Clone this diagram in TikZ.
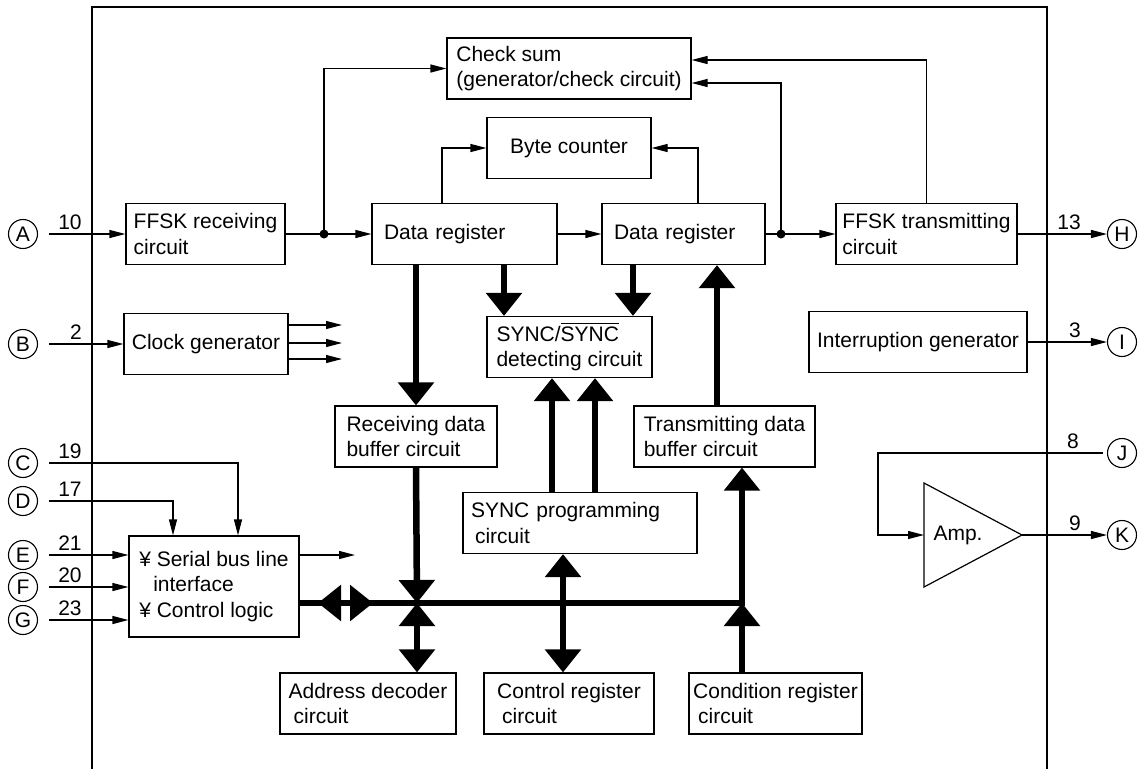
\documentclass[tikz,border=0pt]{standalone}
\usepackage{fontspec}
\setmainfont{Liberation Sans}
\usetikzlibrary{arrows.meta}
\newcommand\barsync[1]{\setbox0\hbox{#1}\rlap{\rule[\dimexpr\ht0+2.5pt\relax]{\wd0}{1.1pt}}#1}
\tikzset{
  blk/.style={draw, line width=1.2pt, inner xsep=4pt, inner ysep=0pt, minimum height=61pt,
    align=left, font=\fontsize{21}{25.7}\selectfont},
  pin/.style={draw, circle, line width=1.1pt, minimum size=29pt, inner sep=0pt,
    font=\fontsize{21}{21}\selectfont},
  num/.style={inner sep=0pt, font=\fontsize{21}{21}\selectfont},
  wire/.style={line width=1.2pt},
  arr/.style={-{Triangle[length=16pt,width=8pt]}},
  bus/.style={line width=6.5pt},
  busarr/.style={-{Triangle[length=23pt,width=35pt]}},
  busboth/.style={{Triangle[length=23pt,width=35pt]}-{Triangle[length=23pt,width=35pt]}}
}
\begin{document}
\begin{tikzpicture}[x=1pt,y=-1pt]
  \useasboundingbox (0,0) rectangle (1142,769);
  \draw[wire] (92,769) -- (92,7) -- (1047,7) -- (1047,769);

  \node[blk, minimum width=244pt] (chk) at (569,68.5) {Check sum\\(generator/check circuit)};
  \node[blk, minimum width=164pt] (byte) at (569,148) {Byte counter};
  \node[blk, minimum width=159pt] (recv) at (205.5,234) {FFSK receiving\\circuit};
  \node[blk, inner xsep=12pt, text width=161pt] (reg1) at (464.5,234) {Data register};
  \node[blk, inner xsep=12pt, text width=139pt] (reg2) at (683.5,234) {Data register};
  \node[blk, minimum width=181pt] (xmit) at (926.5,234) {FFSK transmitting\\circuit};
  \node[blk, minimum width=164pt] (clk) at (206,344) {Clock generator};
  \node[blk, minimum width=165pt] (sync) at (569.5,347) {SYNC/\barsync{SYNC}\\detecting circuit};
  \node[blk, minimum width=218pt] (intr) at (918,342) {Interruption generator};
  \node[blk, minimum width=162pt] (rbuf) at (416,436.5) {Receiving data\\buffer circuit};
  \node[blk, minimum width=181pt] (tbuf) at (724.5,436.5) {Transmitting data\\buffer circuit};
  \node[blk, inner xsep=8pt, text width=218pt] (sprog) at (580,523) {SYNC programming\\\hspace*{4pt}circuit};
  \node[blk, minimum width=170pt, minimum height=101pt] (serial) at (214,586.5)
    {¥ Serial bus line\\\hspace*{14pt}interface\\¥ Control logic};
  \node[blk, minimum width=176pt] (addr) at (368,703.5) {Address decoder\\\hspace*{5pt}circuit};
  \node[blk, minimum width=170pt] (ctrl) at (569,703.5) {Control register\\\hspace*{5pt}circuit};
  \node[blk, minimum width=173pt] (cond) at (775.5,703.5) {Condition register\\\hspace*{5pt}circuit};

  \draw[wire] (924,483) -- (1022,535) -- (924,587) -- cycle;
  \node[num] (amp) at (958,535) {Amp.};
  \coordinate (ampin) at (924,535);
  \coordinate (ampout) at (1022,535);

  \node[pin] (A) at (23,234) {A};
  \node[pin] (B) at (23,344) {B};
  \node[pin] (C) at (23,463) {C};
  \node[pin] (D) at (23,501) {D};
  \node[pin] (E) at (23,555) {E};
  \node[pin] (F) at (23,587) {F};
  \node[pin] (G) at (23,620) {G};
  \node[pin] (H) at (1122,234) {H};
  \node[pin] (I) at (1122,342) {I};
  \node[pin] (J) at (1122,453) {J};
  \node[pin] (K) at (1122,535) {K};

  \node[num] (n10) at (70,222) {10};
  \node[num] (n2) at (76,332) {2};
  \node[num] (n19) at (70,451) {19};
  \node[num] (n17) at (70,489) {17};
  \node[num] (n21) at (70,543) {21};
  \node[num] (n20) at (70,575) {20};
  \node[num] (n23) at (70,608) {23};
  \node[num] (n13) at (1069,222) {13};
  \node[num] (n3) at (1075,330) {3};
  \node[num] (n8) at (1073,441) {8};
  \node[num] (n9) at (1075,523) {9};

  \coordinate (j1) at (324,234);
  \coordinate (j2) at (781,234);
  \coordinate (bj) at (417,603);
  \coordinate (bc) at (742,603);
  \coordinate (so) at (355,555);
  \coordinate (jb) at (878,453);

  % thin signal lines
  \draw[wire,arr,shorten <=11pt] (A) -- (recv);
  \draw[wire,arr,shorten <=11pt] (B) -- (clk);
  \draw[wire,arr,shorten <=11pt] (C) -| (238,0 |- serial.north);
  \draw[wire,arr,shorten <=11pt] (D) -| (173,0 |- serial.north);
  \draw[wire,arr,shorten <=11pt] (E) -- (E -| serial.west);
  \draw[wire,arr,shorten <=11pt] (F) -- (F -| serial.west);
  \draw[wire,arr,shorten <=11pt] (G) -- (G -| serial.west);
  \draw[wire,arr] (serial.east |- so) -- (so);
  \foreach \y in {325,343,359}
    \draw[wire,arr] (clk.east |- 0,\y) -- (342,\y);

  \draw[wire] (recv) -- (j1);
  \fill (j1) circle (4.5pt);
  \draw[wire,arr] (j1) -- (reg1);
  \draw[wire,arr] (j1) |- (chk.west);
  \draw[wire,arr] (reg1) -- (reg2);
  \draw[wire] (reg2) -- (j2);
  \fill (j2) circle (4.5pt);
  \draw[wire,arr] (j2) -- (xmit);
  \draw[wire,arr] (j2) |- ([yshift=-14.5pt]chk.east);
  \draw[wire,arr] (xmit.north) |- ([yshift=8.5pt]chk.east);
  \draw[wire,arr] ([xshift=-22.5pt]reg1.north) |- (byte.west);
  \draw[wire,arr] ([xshift=14.5pt]reg2.north) |- (byte.east);
  \draw[wire,arr] (xmit) -- (H);
  \draw[wire,arr] (intr) -- (I);
  \draw[wire,arr,shorten <=4pt] (J) -- (jb) |- (ampin);
  \draw[wire,arr] (ampout) -- (K);

  % data bus
  \draw[bus,busarr] (reg1.south -| rbuf.north) -- (rbuf.north);
  \draw[bus,busarr] (504,0 |- reg1.south) -- (504,0 |- sync.north);
  \draw[bus,busarr] (633,0 |- reg2.south) -- (633,0 |- sync.north);
  \draw[bus,busarr] (717,0 |- tbuf.north) -- (717,0 |- reg2.south);
  \draw[bus,busarr] (552,0 |- sprog.north) -- (552,0 |- sync.south);
  \draw[bus,busarr] (595,0 |- sprog.north) -- (595,0 |- sync.south);
  \draw[bus,busarr] (rbuf.south) -- (bj);
  \draw[bus,busarr] (serial.east |- bj) -- (bc) -- (bc |- tbuf.south);
  \draw[bus,busarr] (341,603) -- (318,603);
  \draw[bus,busarr] (350,603) -- (373,603);
  \draw[bus,busboth] (bj) -- (bj |- addr.north);
  \draw[bus,busboth] (563,0 |- sprog.south) -- (563,0 |- ctrl.north);
  \draw[bus,busarr] (bc |- cond.north) -- (bc);
\end{tikzpicture}
\end{document}
